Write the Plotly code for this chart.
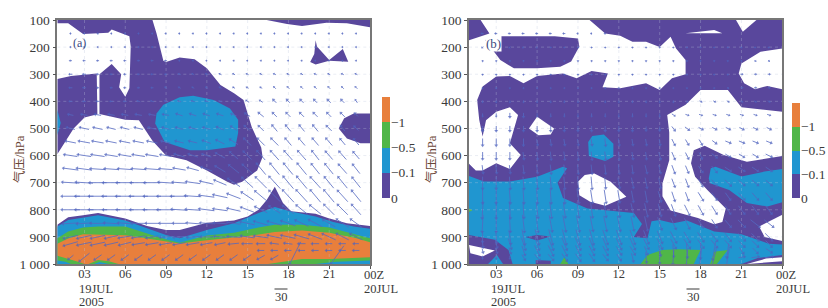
import math
import plotly.graph_objects as go

# ---------- axes values ----------
hour_ticks = [3, 6, 9, 12, 15, 18, 21, 24]
hour_text = ["03", "06", "09", "12", "15", "18", "21", ""]
p_ticks = [100, 200, 300, 400, 500, 600, 700, 800, 900, 1000]
p_text = ["100", "200", "300", "400", "500", "600", "700", "800", "900", "1 000"]
cb_labels = ["0", "\u22120.1", "\u22120.5", "\u22121"]
cb_colors = ["#59479c", "#2096d0", "#50b648", "#e87f3c"]

wind_hours = list(range(2, 24))
wind_levels = [150, 200, 250, 300, 350, 400, 450, 500, 550, 600, 650, 700, 750, 800, 850, 900, 925, 950, 975]

# ---------- panel (a) wind (rows = wind_levels, columns = wind_hours) ----------
a_u = [
 [-1,-1,-1,-1,-1,-1,-1,-1,-1,-1,-1,-1,-1,-1,-1,-1,-1,-1,-1,-1,-1,-1],
 [-1,-1,-1,-1,-1,-1,-1,-1,-1,-1,-1,-1,-1,-1,-1,-1,-1,-1,-1,-1,-1,-1],
 [-2,-2,-2,-2,-2,-2,-2,-2,-1,-1,-1,-1,-1,-1,-1,-1,-1,-1,-1,-1,-1,-1],
 [-3,-3,-2,-2,-2,-2,-2,-2,-2,-2,-2,-2,-2,-2,-2,-2,-2,-2,-2,-2,-2,-2],
 [-3,-3,-2,-2,-2,-2,-2,-2,-2,-2,-2,-2,-2,-2,-2,-2,-2,-2,-2,-2,-2,-2],
 [-3,-3,-3,-3,-3,-3,-3,-3,-3,-3,-3,-3,-3,-3,-3,-3,-3,-3,-3,-3,-3,-2],
 [-5,-6,-6,-6,-6,-6,-6,-6,-6,-6,-6,-6,-5,-5,-5,-4,-4,-4,-4,-4,-4,-3],
 [-8,-9,-9,-8,-8,-8,-8,-7,-7,-7,-7,-7,-6,-6,-5,-5,-5,-5,-5,-5,-4,-4],
 [-10,-11,-11,-10,-10,-10,-10,-9,-8,-8,-8,-8,-8,-7,-7,-7,-6,-6,-6,-6,-5,-5],
 [-13,-13,-13,-12,-12,-12,-12,-11,-10,-9,-9,-9,-8,-8,-8,-8,-8,-8,-7,-7,-7,-6],
 [-15,-15,-15,-14,-14,-14,-14,-13,-12,-11,-11,-10,-10,-10,-9,-9,-9,-9,-8,-8,-8,-7],
 [-17,-17,-17,-17,-17,-16,-16,-15,-14,-14,-13,-12,-12,-11,-11,-11,-10,-10,-10,-9,-9,-8],
 [-18,-18,-18,-18,-18,-18,-17,-17,-17,-16,-15,-14,-13,-12,-12,-11,-11,-11,-10,-10,-10,-9],
 [-18,-18,-18,-17,-17,-17,-17,-17,-16,-15,-15,-14,-13,-13,-12,-11,-11,-11,-11,-10,-10,-9],
 [-16,-15,-15,-15,-14,-14,-13,-13,-13,-13,-13,-13,-13,-14,-14,-14,-14,-13,-13,-12,-12,-11],
 [-14,-14,-14,-13,-13,-13,-12,-12,-12,-12,-12,-12,-13,-13,-14,-14,-14,-14,-13,-13,-12,-12],
 [-14,-14,-14,-13,-12,-12,-12,-12,-12,-12,-11,-10,-10,-10,-8,-8,-8,-7,-7,-6,-6,-5],
 [0,0,0,0,0,0,0,0,0,0,0,0,0,0,-6,-6,-6,-6,-6,-6,-6,-6],
 [-5,-10,-7,-7,-7,-7,-7,-7,-7,-7,-7,-7,-7,-7,-7,-7,0,0,0,0,0,0],
]
a_v = [
 [0,0,0,0,0,0,0,0,0,0,0,0,0,0,0,0,0,0,0,0,0,0],
 [0,0,0,0,0,0,0,0,0,0,0,0,0,0,0,0,0,0,0,0,0,0],
 [0,0,0,0,0,0,0,0,0,0,0,0,0,0,0,0,0,0,0,0,0,0],
 [0,0,0,0,0,0,0,0,-1,-1,-1,-1,-1,-1,-1,-1,-1,-1,-1,-1,-1,-1],
 [0,0,0,0,0,0,0,-1,-1,-1,-1,-1,-1,-1,-1,-2,-2,-2,-2,-2,-2,-2],
 [0,0,0,0,0,-1,-1,-1,-1,-1,-1,-1,-1,-2,-2,-3,-3,-3,-3,-3,-3,-3],
 [-1,-1,-1,-1,-1,-1,-1,-1,-2,-2,-2,-2,-2,-3,-4,-4,-4,-4,-4,-4,-4,-3],
 [-2,-2,-2,-2,-2,-2,-2,-2,-2,-2,-2,-3,-4,-5,-5,-6,-6,-6,-6,-5,-5,-4],
 [-2,-2,-2,-2,-2,-2,-2,-2,-2,-2,-3,-4,-5,-7,-7,-7,-7,-7,-7,-7,-6,-6],
 [-2,-2,-2,-2,-2,-2,-2,-2,-3,-3,-3,-5,-7,-8,-9,-9,-9,-9,-9,-8,-8,-7],
 [-2,-2,-1,-1,-1,-1,-1,-1,-2,-3,-4,-6,-8,-9,-11,-11,-11,-11,-10,-10,-9,-9],
 [-1,-1,0,0,0,0,0,-1,-1,-2,-3,-5,-8,-10,-11,-12,-12,-12,-11,-11,-11,-10],
 [0,0,0,0,0,0,0,0,0,-1,-2,-3,-5,-8,-10,-11,-12,-12,-12,-12,-11,-11],
 [0,0,0,0,0,0,0,0,-1,-1,-2,-2,-3,-5,-6,-7,-8,-9,-9,-10,-10,-10],
 [1,1,0,-1,-1,0,0,0,0,-1,-1,-1,-2,-3,-4,-4,-5,-6,-7,-7,-8,-8],
 [3,3,3,3,2,2,2,1,1,1,0,-1,-1,-2,-2,-3,-3,-4,-5,-6,-6,-6],
 [4,3,3,3,3,2,2,2,2,2,2,2,1,0,0,-1,-1,0,0,0,0,0],
 [0,0,0,0,0,0,0,0,0,0,0,0,0,0,0,0,0,0,0,0,0,0],
 [4,8,5,5,5,5,5,5,5,5,5,5,5,5,4,4,0,0,0,0,0,0],
]
a_extra_hours = [18.5, 21.6]
a_extra_levels = [959, 966]
a_extra_u = [-11, -13]
a_extra_v = [22, 18]

# ---------- panel (b) wind ----------
b_u = [
 [-2,-2,-2,-2,-2,-2,-2,-1,-1,-1,0,0,0,0,0,0,0,0,0,0,0,0],
 [-1,-1,-1,-1,-1,0,0,0,0,0,0,0,0,0,0,0,0,0,0,0,0,0],
 [0,0,0,0,0,0,0,0,0,0,0,0,0,0,0,0,0,0,0,0,1,1],
 [0,0,0,0,0,0,0,0,0,0,0,0,0,0,0,0,0,0,0,2,2,2],
 [0,0,0,0,0,0,0,0,0,0,0,0,0,0,0,0,0,0,1,2,2,2],
 [0,0,0,0,0,0,0,0,0,0,0,0,0,0,0,1,2,2,2,2,2,2],
 [0,0,0,0,0,0,0,0,0,0,0,0,0,0,3,3,3,3,3,3,3,3],
 [0,0,0,0,0,0,0,0,0,0,0,0,0,0,3,4,4,4,4,4,4,4],
 [0,0,0,0,1,1,1,1,1,1,1,1,1,1,3,3,3,4,5,5,5,5],
 [0,0,0,1,1,1,1,1,1,1,1,1,1,2,3,3,3,5,5,5,5,6],
 [1,1,1,1,1,1,1,1,1,1,1,1,2,2,3,3,4,5,6,6,6,6],
 [0,0,1,1,1,1,1,1,1,1,2,2,2,2,3,3,4,5,6,6,6,6],
 [0,0,1,1,1,1,1,2,2,2,2,2,2,3,3,3,5,5,5,6,6,6],
 [-1,0,1,1,2,2,2,2,2,2,2,3,3,3,4,5,5,5,5,6,6,6],
 [-1,0,1,2,2,3,3,3,3,3,3,3,3,4,5,5,5,5,6,7,9,9],
 [0,1,2,3,4,4,4,4,4,5,5,5,5,5,6,6,6,6,6,7,7,7],
 [1,2,3,4,4,5,5,5,5,5,5,5,5,5,5,6,6,6,6,6,6,6],
 [1,2,2,3,5,5,5,5,5,5,5,5,3,2,1,1,0,-3,-2,4,5,6],
 [0,0,0,3,5,5,5,5,5,5,4,2,1,0,-1,-1,-2,-5,-3,6,7,8],
]
b_v = [
 [0,0,0,0,0,0,0,0,0,0,0,0,0,0,0,0,0,0,0,0,0,0],
 [1,1,1,1,1,1,1,1,1,1,1,1,1,1,1,1,1,1,1,1,1,1],
 [1,1,1,1,1,1,1,1,1,1,1,1,1,1,1,1,1,1,1,1,1,1],
 [1,1,1,1,1,1,1,1,1,1,1,1,1,1,1,1,1,1,1,0,0,0],
 [1,1,1,1,1,1,1,1,1,1,1,1,1,1,1,1,1,1,1,0,0,0],
 [2,2,2,2,2,2,2,2,2,2,2,2,2,2,2,1,1,1,1,1,1,1],
 [3,3,4,4,3,3,3,3,3,3,3,3,3,3,2,1,1,1,1,1,1,1],
 [5,5,5,5,5,5,5,5,5,5,5,5,4,4,4,3,2,2,2,2,2,2],
 [7,7,7,7,6,6,6,6,6,7,7,6,6,6,6,5,5,3,2,2,2,2],
 [7,7,7,7,7,8,8,8,8,8,8,7,7,7,7,6,6,4,3,3,3,3],
 [8,8,8,8,8,9,9,9,9,9,9,8,8,8,8,7,6,6,4,4,4,4],
 [12,12,12,12,12,12,12,12,12,11,10,10,10,10,8,8,7,6,6,5,5,5],
 [14,14,14,14,14,14,14,14,13,13,12,11,11,10,9,8,8,7,7,7,7,7],
 [17,17,17,16,16,16,15,15,15,14,14,13,13,12,11,10,9,8,8,8,8,8],
 [17,17,17,17,17,16,16,16,15,15,15,14,14,12,11,10,8,8,7,7,7,7],
 [10,12,14,15,15,15,15,15,15,14,14,14,13,12,11,10,9,8,8,7,7,7],
 [7,8,10,12,12,12,12,12,12,12,11,11,10,10,9,9,8,7,7,6,6,6],
 [4,5,6,9,10,10,10,10,9,9,8,8,8,10,12,14,16,18,14,6,5,4],
 [3,3,3,5,6,6,7,7,7,6,6,8,10,12,14,15,18,20,18,-1,-1,-1],
]
b_extra_hours = []
b_extra_levels = []
b_extra_u = []
b_extra_v = []

# ---------- panel (a) shaded regions: (hour, hPa) outlines ----------
a_purple = [
 [(1,318),(2,307),(3.9,297),(3.95,448),(3,460),(2.2,500),(1,595)],
 [(4.1,447),(4.1,300),(5,262),(5.7,300),(5.55,348),(6,383),(6.3,352),(6.4,198),(6.3,160),(5,135),(4.75,147),(3.9,150),(2.9,152),(1.8,112),(1,112),(1,100),(8,100),(8.3,150),(8.8,250),(9,255),(9.5,247),(10,238),(11.1,245),(12,278),(13,340),(14,370),(14.7,395),(15,450),(15.3,495),(16,570),(16.1,605),(15.7,655),(14.6,697),(14,708),(13.5,697),(12,655),(10.5,617),(9,600),(8,545),(7,470),(6,468)],
 [(16.4,100),(24,100),(24,127),(22.3,112),(20.8,110),(19,122),(17.9,115)],
 [(19.6,255),(19.9,225),(20,175),(20.1,198),(21,248),(22,207),(22.4,254),(21,250),(20,264)],
 [(24,445),(22.8,445),(22.1,462),(21.7,500),(22.3,537),(23.3,555),(24,555)],
 [(1,855),(1.8,828),(2.9,820),(4,812),(6,832),(7.6,860),(9,875),(10,875),(12,848),(14,840),(15,825),(15.8,800),(16.4,764),(17,715),(17.6,775),(18.2,805),(20,815),(20.9,830),(22.3,850),(24,860),(24,1000),(1,1000)],
]
a_blue = [
 [(1,430),(1.25,480),(1,525)],
 [(8.3,445),(8.8,413),(10,385),(11,379),(12.5,395),(13.7,426),(14.3,468),(14.3,517),(14.1,567),(12,580),(10.75,580),(8.9,550),(8.2,482)],
 [(1,862),(1.8,838),(4,820),(6,840),(7.6,868),(9,893),(10,905),(12,875),(14,850),(15.8,812),(17,790),(18.1,805),(20,825),(21.3,845),(22.8,862),(24,870),(24,1000),(1,1000)],
]
a_green = [
 [(1,905),(1.8,880),(2.9,865),(4,862),(6,862),(7.6,888),(9,910),(10,922),(12,895),(14,885),(15.8,865),(17,855),(19,855),(21,865),(23,890),(24,905),(24,1000),(1,1000)],
]
a_orange = [
 [(1,925),(1.8,906),(2.9,890),(6,894),(7.6,906),(9,917),(10,924),(12,912),(15,897),(17,882),(19,876),(21,885),(23,905),(24,920),(24,975),(21,982),(19,982),(16.5,1000),(5.5,1000),(4.8,990),(4,985),(3.3,1000),(3,1000),(2.4,990),(1,970)],
]
a_blue_low = [
 [(1,987),(1.6,992),(2,1000),(1,1000)],
 [(3.7,1000),(4.1,993),(4.8,1000)],
 [(20,1000),(21.5,992),(24,987),(24,1000)],
]

# ---------- panel (b) shaded regions ----------
b_white = [
 [(1.85,100),(9.85,100),(11,150),(12.1,158),(13,180),(14,180),(15,200),(15.8,162),(16.2,205),(16.9,248),(16.9,300),(15.9,315),(15,358),(14,333),(12.1,352),(10.8,348),(11.2,297),(10,288),(8.9,315),(7.9,297),(6,307),(5,333),(4,307),(3,308),(2,345),(1.6,395),(1.75,468),(2,530),(2.25,470),(3,438),(4,422),(4.6,450),(4,555),(4.8,598),(4,650),(3,628),(2,655),(1.5,655),(1,630),(1,175),(2.5,150)],
 [(24,205),(22.4,217),(21,260),(20.8,297),(21.2,333),(22,355),(22.9,343),(24,355)],
 [(16.9,149),(19,137),(19.6,149)],
 [(20.6,100),(22.1,100),(21.1,143)],
 [(5.4,500),(6,457),(7.25,500),(7,522),(6.1,525)],
 [(9,697),(9.5,672),(10.2,666),(11.4,697),(12.55,752),(11,785),(9.9,770),(9.1,746)],
 [(15.55,450),(16.9,413),(18,358),(20,358),(21,422),(24,438),(24,602),(21.4,623),(19.7,598),(18.3,564),(17.5,580),(17.3,628),(17.6,678),(18.5,727),(19.85,795),(19.6,845),(19,853),(17.8,830),(15.8,803),(15.2,750),(15.2,703),(15.7,617),(15.7,515)],
 [(24,818),(22.3,862),(22.7,900),(24,915)],
]
b_purple = [
 [(2.5,160),(7.3,160),(9,168),(9.1,198),(8.5,253),(7.7,272),(6,278),(4.3,278),(3.3,248),(2.2,175)],
]
b_blue = [
 [(1,675),(2.1,696),(4,696),(6,678),(7.9,641),(8.2,647),(7.5,700),(7.9,757),(9.7,795),(11,802),(13.1,812),(13.7,852),(13.1,900),(14.1,905),(14.4,842),(15,838),(16,850),(17,840),(19,880),(21,890),(23,925),(24,928),(24,967),(22.2,978),(21,1000),(4.2,1000),(3.9,948),(2.9,911),(1,893)],
 [(18.6,685),(18.75,647),(19.1,641),(21,677),(22.7,659),(24,650),(24,772),(22.9,788),(21.4,775),(20.1,727),(18.7,702)],
 [(9.75,550),(10.05,528),(10.9,522),(11.6,556),(11.6,604),(11,620),(9.8,602)],
 [(2.4,1000),(3.05,967),(3.5,1000)],
]
b_purple_over = [
 [(5.15,900),(6,893),(7,899),(6,913)],
 [(5.9,1000),(5.9,985),(7,988),(7,1000)],
]
b_green = [
 [(1,795),(1.25,802),(1,808)],
 [(7.7,1000),(8,975),(8.3,1000)],
 [(13.6,1000),(14.1,967),(15.2,948),(16.3,946),(18,948),(17.5,1000)],
 [(18.7,1000),(19,955),(20,948),(19.2,1000)],
]
b_white_low = [
 [(1,930),(2.1,942),(2.9,950),(2,972),(1.1,960)],
 [(21.4,1000),(22.8,980),(24,975),(24,990)],
]

PURPLE, BLUE, GREEN, ORANGE = cb_colors
ARROW = "#5468c0"
HEAD = "#4f63bd"
GRID = "rgba(190,197,220,0.4)"
TEXT = "#3a3a3a"
FONT = "Liberation Serif"

W, H = 828, 308
panels = [dict(left=57.3, right=370.0, xa="x", ya="y", axis_x="xaxis", axis_y="yaxis"),
          dict(left=469.0, right=782.3, xa="x2", ya="y2", axis_x="xaxis2", axis_y="yaxis2")]
TOP, BOTTOM = 20.0, 264.0
PX_PER_HOUR = (370.0 - 57.3) / 23.0
PX_PER_HPA = (BOTTOM - TOP) / 900.0

fig = go.Figure()


def add_polys(polys, color, xa, ya):
    for poly in polys:
        xs = [p[0] for p in poly] + [poly[0][0]]
        ys = [p[1] for p in poly] + [poly[0][1]]
        fig.add_trace(go.Scatter(x=xs, y=ys, mode="lines", fill="toself", fillcolor=color,
                                 line=dict(width=0, color=color), hoverinfo="skip",
                                 showlegend=False, xaxis=xa, yaxis=ya))


def add_grid(xa, ya):
    xs, ys = [], []
    for t in p_ticks[1:-1]:
        xs += [1, 24, None]
        ys += [t, t, None]
    for t in hour_ticks[:-1]:
        xs += [t, t, None]
        ys += [100, 1000, None]
    fig.add_trace(go.Scatter(x=xs, y=ys, mode="lines", line=dict(color=GRID, width=0.8, dash="dot"),
                             hoverinfo="skip", showlegend=False, xaxis=xa, yaxis=ya))


def add_wind(hours, levels, u, v, ex_h, ex_l, ex_u, ex_v, xa, ya):
    items = []
    for r, lev in enumerate(levels):
        for c, h in enumerate(hours):
            items.append((h, lev, u[r][c], v[r][c]))
    items += list(zip(ex_h, ex_l, ex_u, ex_v))
    lx, ly, tx, ty, ang, size = [], [], [], [], [], []
    for h, lev, uu, vv in items:
        if uu == 0 and vv == 0:
            continue
        dx = uu / PX_PER_HOUR / 2
        dy = vv / PX_PER_HPA / 2
        lx += [h - dx, h + dx, None]
        ly += [lev - dy, lev + dy, None]
        tx.append(h + dx)
        ty.append(lev + dy)
        ang.append(math.degrees(math.atan2(uu, -vv)))
        size.append(2.5 if math.hypot(uu, vv) < 4 else 3.5)
    fig.add_trace(go.Scatter(x=lx, y=ly, mode="lines", line=dict(color=ARROW, width=0.8),
                             hoverinfo="skip", showlegend=False, xaxis=xa, yaxis=ya))
    fig.add_trace(go.Scatter(x=tx, y=ty, mode="markers",
                             marker=dict(symbol="triangle-up", size=size, color=HEAD, angle=ang, line=dict(width=0)),
                             hoverinfo="skip", showlegend=False, xaxis=xa, yaxis=ya))


# panel (a)
add_polys(a_purple, PURPLE, "x", "y")
add_polys(a_blue, BLUE, "x", "y")
add_polys(a_green, GREEN, "x", "y")
add_polys(a_orange, ORANGE, "x", "y")
add_polys(a_blue_low, BLUE, "x", "y")
add_grid("x", "y")
add_wind(wind_hours, wind_levels, a_u, a_v, a_extra_hours, a_extra_levels, a_extra_u, a_extra_v, "x", "y")

# panel (b)
add_polys([[(1, 100), (24, 100), (24, 1000), (1, 1000)]], PURPLE, "x2", "y2")
add_polys(b_white, "#ffffff", "x2", "y2")
add_polys(b_purple, PURPLE, "x2", "y2")
add_polys(b_blue, BLUE, "x2", "y2")
add_polys(b_purple_over, PURPLE, "x2", "y2")
add_polys(b_green, GREEN, "x2", "y2")
add_polys(b_white_low, "#ffffff", "x2", "y2")
add_grid("x2", "y2")
add_wind(wind_hours, wind_levels, b_u, b_v, b_extra_hours, b_extra_levels, b_extra_u, b_extra_v, "x2", "y2")

# colour bars
for xa, ya in (("x3", "y3"), ("x4", "y4")):
    fig.add_trace(go.Bar(x=[0, 0, 0, 0], y=[1, 1, 1, 1], base=[0, 1, 2, 3], width=1,
                         marker=dict(color=cb_colors, line=dict(width=0)), hoverinfo="skip",
                         showlegend=False, xaxis=xa, yaxis=ya))

LABEL = 13.5
NOTE = 12.5
layout = dict(width=W, height=H, margin=dict(l=0, r=0, t=0, b=0), paper_bgcolor="white",
              plot_bgcolor="white", showlegend=False, bargap=0,
              font=dict(family=FONT, size=LABEL, color=TEXT))

for p in panels:
    layout[p["axis_x"]] = dict(domain=[p["left"] / W, p["right"] / W], range=[1, 24], tickvals=hour_ticks,
                               ticktext=hour_text, ticks="outside", ticklen=3, tickwidth=1, tickcolor="#555",
                               ticklabelstandoff=-6,
                               showgrid=False, zeroline=False, showline=True, linecolor="#777", linewidth=1.5,
                               mirror=True, anchor=p["ya"], automargin=False,
                               tickfont=dict(family=FONT, size=NOTE, color=TEXT))
    layout[p["axis_y"]] = dict(domain=[(H - BOTTOM) / H, (H - TOP) / H], range=[1000, 100], tickvals=p_ticks,
                               ticktext=p_text, ticks="outside", ticklen=3, tickwidth=1, tickcolor="#555",
                               showgrid=False, zeroline=False, showline=True, linecolor="#777", linewidth=1.5,
                               mirror=True, anchor=p["xa"], automargin=False,
                               tickfont=dict(family=FONT, size=LABEL, color=TEXT))

cbars = [dict(ax="xaxis3", ay="yaxis3", xa="x3", ya="y3", left=381.7, right=390.0, top=97.0, bottom=198.0),
         dict(ax="xaxis4", ay="yaxis4", xa="x4", ya="y4", left=791.7, right=800.0, top=103.0, bottom=198.0)]
for cb in cbars:
    layout[cb["ax"]] = dict(domain=[cb["left"] / W, cb["right"] / W], range=[-0.5, 0.5], visible=False,
                            anchor=cb["ya"], automargin=False)
    layout[cb["ay"]] = dict(domain=[(H - cb["bottom"]) / H, (H - cb["top"]) / H], range=[0, 4], side="right",
                            anchor=cb["xa"], tickvals=[0, 1, 2, 3], ticktext=cb_labels, showgrid=False,
                            zeroline=False, showline=False, ticks="", ticklen=0, automargin=False,
                            tickfont=dict(family=FONT, size=LABEL, color=TEXT))

fig.update_layout(**layout)


def paper_note(text, px, py, anchor="left", size=NOTE, color=TEXT, angle=0, bg=None):
    fig.add_annotation(text=text, x=px / W, y=1 - py / H, xref="paper", yref="paper", showarrow=False,
                       xanchor=anchor, yanchor="middle", textangle=angle, bgcolor=bg, borderpad=0,
                       font=dict(family=FONT, size=size, color=color))


for left in (78.0, 490.0):
    paper_note("19JUL", left, 289)
    paper_note("2005", left, 302)
for left in (362.5, 775.0):
    paper_note("00Z", left, 275)
    paper_note("20JUL", left, 289)
for centre in (281, 693):
    paper_note("30", centre, 297, anchor="center")
    fig.add_shape(type="line", xref="paper", yref="paper", x0=(centre - 6.5) / W, x1=(centre + 6.5) / W,
                  y0=1 - 289 / H, y1=1 - 289 / H, line=dict(color=TEXT, width=1))

for px in (18, 430):
    fig.add_annotation(text="<span style='font-family:Noto Sans CJK SC'>气压</span>/hPa", x=px / W, y=1 - 159 / H,
                       xref="paper", yref="paper", showarrow=False, textangle=-90, xanchor="center",
                       yanchor="middle", font=dict(family=FONT, size=12.5, color="#6a4536"))

paper_note("(a)", 79, 43, anchor="center", size=12, color="#3c4a80")
paper_note("(b)", 493, 43, anchor="center", size=13, color="#3c4a80", bg="white")

fig.write_html("out.html", config={"displayModeBar": False}, post_script="document.body.style.margin='0';")
